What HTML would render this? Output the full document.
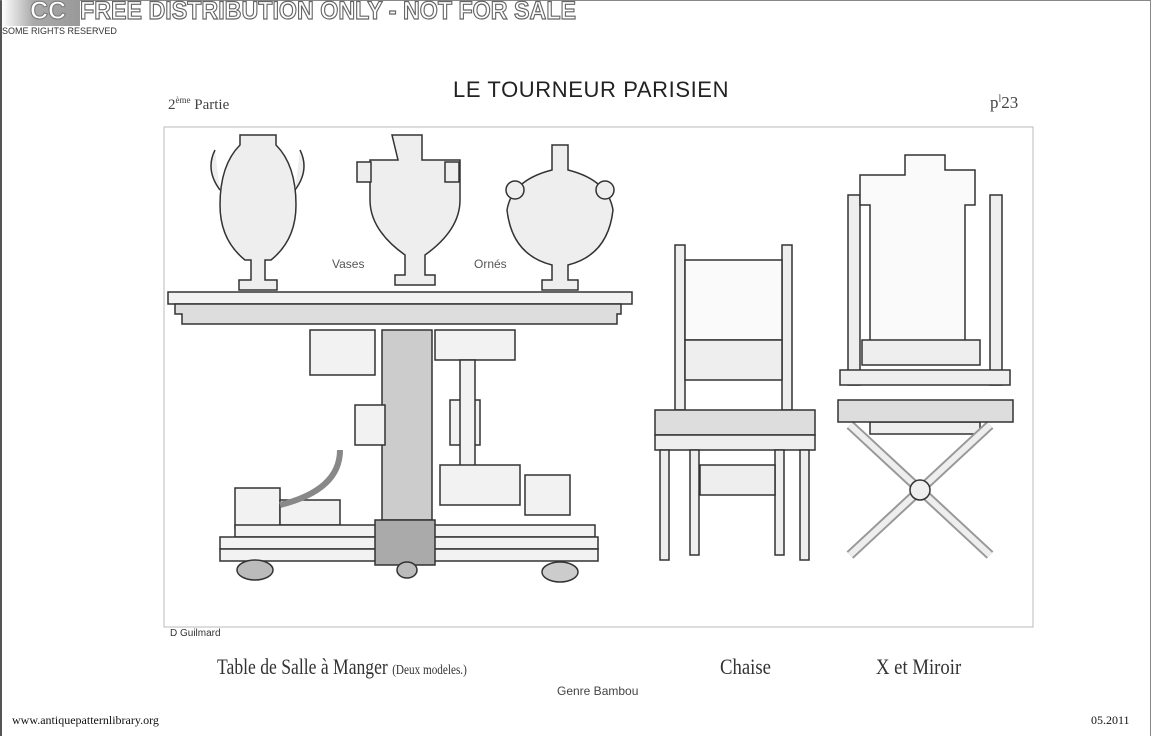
<!DOCTYPE html>
<html><head><meta charset="utf-8"><style>
body{margin:0;width:1151px;height:736px;background:#fff;overflow:hidden;position:relative;font-family:"Liberation Sans",sans-serif}
.t{position:absolute;white-space:nowrap;color:#222}
</style></head><body>
<div style="position:absolute;left:0;top:0;width:1151px;height:736px;box-sizing:border-box;border-left:2px solid #555;border-top:1px solid #888;border-right:1px solid #888"></div>
<div style="position:absolute;left:2px;top:0;width:78px;height:26px;background:linear-gradient(90deg,#fff,#aaa 40%,#999)"></div>
<div class="t" style="left:30px;top:-3px;font:bold 25px 'Liberation Sans';color:#fff;-webkit-text-stroke:1px #777">CC</div>
<div class="t" style="left:80px;top:-3px;font:bold 25px 'Liberation Sans';color:#fff;-webkit-text-stroke:1.2px #666;transform:scaleX(0.93);transform-origin:left">FREE DISTRIBUTION ONLY - NOT FOR SALE</div>
<div class="t" style="left:2px;top:26px;font-size:9px;color:#333">SOME RIGHTS RESERVED</div>
<div class="t" style="left:453px;top:77px;font-size:22px;letter-spacing:0.6px;color:#222">LE TOURNEUR PARISIEN</div>
<div class="t" style="left:168px;top:95px;font:15px 'Liberation Serif';color:#444">2<sup style="font-size:9px">ème</sup> Partie</div>
<div class="t" style="left:990px;top:93px;font:17px 'Liberation Serif';color:#444">p<sup style="font-size:10px">l</sup>23</div>
<div class="t" style="left:170px;top:628px;font-size:10px;color:#333">D Guilmard</div>
<div class="t" style="left:217px;top:654px;font:22px 'Liberation Serif';color:#333;transform:scaleX(0.8);transform-origin:left">Table de Salle à Manger <span style="font-size:14px">(Deux modeles.)</span></div>
<div class="t" style="left:720px;top:654px;font:22px 'Liberation Serif';color:#333;transform:scaleX(0.85);transform-origin:left">Chaise</div>
<div class="t" style="left:876px;top:654px;font:22px 'Liberation Serif';color:#333;transform:scaleX(0.85);transform-origin:left">X et Miroir</div>
<div class="t" style="left:557px;top:684px;font-size:12px;color:#444">Genre Bambou</div>
<div class="t" style="left:332px;top:257px;font-size:12px;color:#555">Vases</div>
<div class="t" style="left:474px;top:257px;font-size:12px;color:#555">Ornés</div>
<div class="t" style="left:12px;top:713px;font:12px 'Liberation Serif';color:#111">www.antiquepatternlibrary.org</div>
<div class="t" style="left:1091px;top:713px;font:12px 'Liberation Serif';color:#111">05.2011</div>
<svg width="1151" height="736" style="position:absolute;left:0;top:0" fill="none" stroke="#333" stroke-width="1.5">
<rect x="164" y="127" width="869" height="500" stroke="#bbb" stroke-width="1"/>
<g fill="#eee">
<path d="M240 135h36v10q20 20 20 60q0 35 -25 55h-6v20h12v10h-38v-10h12v-20h-6q-25-20-25-55q0-40 20-60z"/>
<path d="M215 150q-10 20 5 40M300 150q10 20 -5 40"/>
<path d="M392 135h30v25h38v40q0 30-35 55v20h10v10h-40v-10h10v-20q-35-25-35-55v-40h28z"/>
<rect x="357" y="162" width="14" height="20"/><rect x="445" y="162" width="14" height="20"/>
<path d="M552 145h16v25q40 10 45 40q-5 45-45 55v15h10v10h-36v-10h10v-15q-40-10-45-55q5-30 45-40z"/>
<circle cx="515" cy="190" r="9"/><circle cx="605" cy="190" r="9"/>
</g>
<g fill="#f2f2f2">
<rect x="168" y="292" width="464" height="12"/>
<path d="M175 304h446v10h-4v10H182v-10h-7z" fill="#ddd"/>
<rect x="382" y="330" width="50" height="190" fill="#ccc"/>
<rect x="310" y="330" width="65" height="45"/><rect x="435" y="330" width="80" height="30"/>
<rect x="355" y="405" width="30" height="40"/><rect x="450" y="400" width="30" height="45"/>
<rect x="460" y="360" width="15" height="120"/><rect x="440" y="465" width="80" height="40"/>
<rect x="525" y="475" width="45" height="40"/><rect x="235" y="488" width="45" height="40"/>
<rect x="280" y="500" width="60" height="25"/>
<path d="M340 450q0 40-60 55" stroke-width="6" stroke="#888" fill="none"/>
<rect x="235" y="525" width="360" height="12"/>
<rect x="220" y="537" width="378" height="12"/>
<rect x="220" y="549" width="378" height="12"/>
<rect x="375" y="520" width="60" height="45" fill="#aaa"/>
<ellipse cx="255" cy="570" rx="18" ry="10" fill="#bbb"/><ellipse cx="560" cy="572" rx="18" ry="10" fill="#ccc"/>
<ellipse cx="407" cy="570" rx="10" ry="8" fill="#bbb"/>
</g>
<g fill="#eee">
<rect x="675" y="245" width="10" height="165"/><rect x="782" y="245" width="10" height="165"/>
<rect x="685" y="260" width="97" height="80" fill="#fafafa"/>
<rect x="685" y="340" width="97" height="40"/>
<path d="M655 410h160v25H655z" fill="#ddd"/><rect x="655" y="435" width="160" height="15"/>
<rect x="660" y="450" width="9" height="110"/><rect x="800" y="450" width="9" height="110"/>
<rect x="690" y="450" width="9" height="105"/><rect x="775" y="450" width="9" height="105"/>
<rect x="700" y="465" width="75" height="30"/>
</g>
<g fill="#eee">
<rect x="848" y="195" width="12" height="190"/><rect x="990" y="195" width="12" height="190"/>
<path d="M905 155h40v15h30v35h-10v150H870v-150h-10v-30h45z" fill="#fafafa"/>
<rect x="862" y="340" width="118" height="25"/>
<rect x="840" y="370" width="170" height="15"/>
<rect x="870" y="422" width="110" height="12"/>
<path d="M850 425l140 130M990 425L850 555" stroke-width="10" stroke="#999"/>
<path d="M850 425l140 130M990 425L850 555" stroke-width="6" stroke="#eee"/>
<path d="M838 400h175v22H838z" fill="#ddd"/>
<circle cx="920" cy="490" r="10"/>
</g>
</svg>
</body></html>
